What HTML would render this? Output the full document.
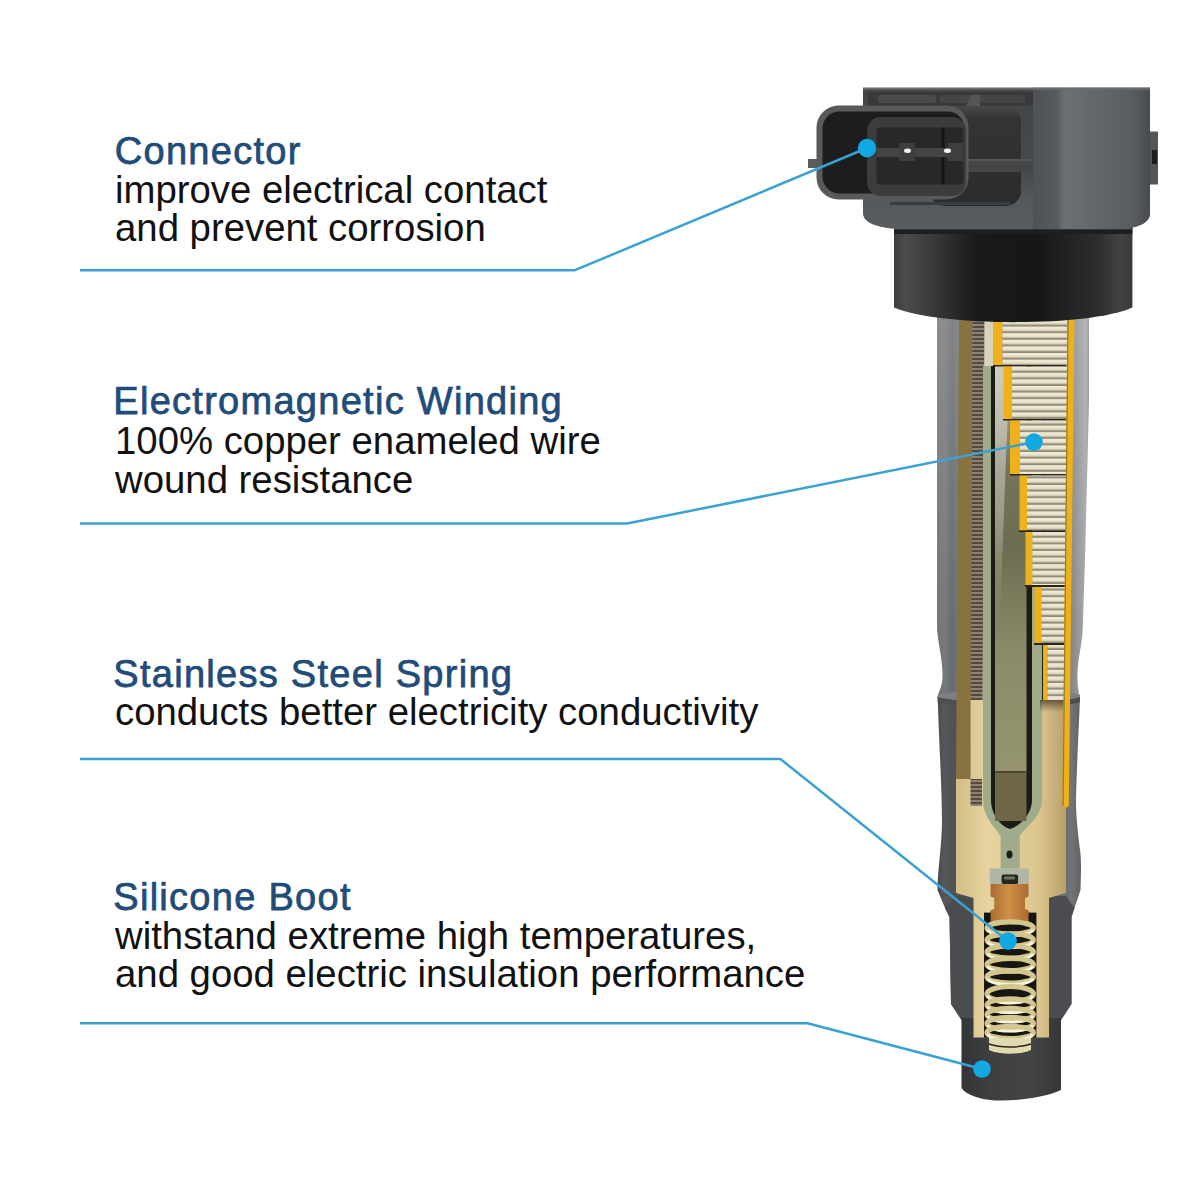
<!DOCTYPE html>
<html><head><meta charset="utf-8">
<style>
html,body{margin:0;padding:0;background:#fff;}
body{width:1200px;height:1200px;position:relative;overflow:hidden;font-family:"Liberation Sans",sans-serif;}
.t{position:absolute;left:115px;white-space:nowrap;line-height:1;}
.h{left:113.3px;font-size:38px;color:#1f4c79;letter-spacing:1.28px;-webkit-text-stroke:0.75px #1f4c79;}
.b{font-size:38.35px;color:#111;}
svg{position:absolute;left:0;top:0;}
</style></head><body>
<div class="t h" style="top:132px;left:114.8px">Connector</div>
<div class="t b" style="top:170.5px">improve electrical contact</div>
<div class="t b" style="top:209.2px">and prevent corrosion</div>

<div class="t h" style="top:381.8px">Electromagnetic Winding</div>
<div class="t b" style="top:421.6px">100% copper enameled wire</div>
<div class="t b" style="top:461.3px">wound resistance</div>

<div class="t h" style="top:655.1px">Stainless Steel Spring</div>
<div class="t b" style="top:693.4px">conducts better electricity conductivity</div>

<div class="t h" style="top:877.8px">Silicone Boot</div>
<div class="t b" style="top:917px">withstand extreme high temperatures,</div>
<div class="t b" style="top:955px">and good electric insulation performance</div>

<svg width="1200" height="1200" viewBox="0 0 1200 1200">
<defs>
<linearGradient id="gShaft" x1="937" x2="1089" y1="0" y2="0" gradientUnits="userSpaceOnUse">
<stop offset="0" stop-color="#727578"/><stop offset="0.05" stop-color="#76797c"/><stop offset="0.1" stop-color="#686b6e"/><stop offset="0.13" stop-color="#707275"/>
<stop offset="0.86" stop-color="#7c7e81"/><stop offset="0.93" stop-color="#959799"/><stop offset="0.98" stop-color="#a6a8aa"/><stop offset="1" stop-color="#8a8c8e"/>
</linearGradient>
<linearGradient id="gBoot" x1="937" x2="1082" y1="0" y2="0" gradientUnits="userSpaceOnUse">
<stop offset="0" stop-color="#48494c"/><stop offset="0.05" stop-color="#56585b"/><stop offset="0.12" stop-color="#505255"/>
<stop offset="0.8" stop-color="#5a5c5f"/><stop offset="0.92" stop-color="#737578"/><stop offset="1" stop-color="#5e6063"/>
</linearGradient>
<linearGradient id="gTip" x1="961" x2="1061" y1="0" y2="0" gradientUnits="userSpaceOnUse">
<stop offset="0" stop-color="#333435"/><stop offset="0.3" stop-color="#3e3f40"/><stop offset="0.7" stop-color="#434445"/><stop offset="1" stop-color="#363738"/>
</linearGradient>
<linearGradient id="gCollar" x1="894" x2="1133" y1="0" y2="0" gradientUnits="userSpaceOnUse">
<stop offset="0" stop-color="#3c3d3e"/><stop offset="0.05" stop-color="#4b4c4d"/><stop offset="0.15" stop-color="#3a3b3c"/><stop offset="0.35" stop-color="#19191a"/>
<stop offset="0.6" stop-color="#161718"/><stop offset="0.85" stop-color="#2c2d2e"/><stop offset="0.95" stop-color="#424344"/><stop offset="1" stop-color="#363738"/>
</linearGradient>
<linearGradient id="gHeadR" x1="1033" x2="1150" y1="0" y2="0" gradientUnits="userSpaceOnUse">
<stop offset="0" stop-color="#4f5254"/><stop offset="0.2" stop-color="#575a5c"/><stop offset="0.27" stop-color="#6e7173"/>
<stop offset="0.5" stop-color="#65686a"/><stop offset="0.85" stop-color="#5a5d5f"/><stop offset="1" stop-color="#484b4d"/>
</linearGradient>
<linearGradient id="gBeige" x1="955" x2="1066" y1="0" y2="0" gradientUnits="userSpaceOnUse">
<stop offset="0" stop-color="#d3bd85"/><stop offset="0.3" stop-color="#e6d3a0"/><stop offset="0.75" stop-color="#dcc68f"/><stop offset="1" stop-color="#b9a06a"/>
</linearGradient>
<linearGradient id="gWS" x1="0" x2="0" y1="0" y2="1">
<stop offset="0" stop-color="#f2edda"/><stop offset="0.55" stop-color="#e4dec6"/><stop offset="0.7" stop-color="#b9b29c"/><stop offset="0.85" stop-color="#7d7667"/><stop offset="1" stop-color="#a39c88"/>
</linearGradient>
<pattern id="pWind" width="300" height="6.6" patternUnits="userSpaceOnUse" x="0" y="320">
<rect width="300" height="6.6" fill="url(#gWS)"/>
</pattern>
<pattern id="pSerr" width="12" height="4" patternUnits="userSpaceOnUse">
<rect width="12" height="4" fill="#8d8174"/><rect y="2" width="12" height="2" fill="#54493f"/>
</pattern>
<linearGradient id="gCore" x1="0" x2="0" y1="366" y2="771" gradientUnits="userSpaceOnUse">
<stop offset="0" stop-color="#b9b7a6"/><stop offset="0.1" stop-color="#9c9a86"/><stop offset="0.25" stop-color="#75735a"/><stop offset="0.45" stop-color="#6d6c50"/><stop offset="0.7" stop-color="#8b8b6a"/><stop offset="1" stop-color="#95946f"/>
</linearGradient>
<linearGradient id="gCopper" x1="990" x2="1028" y1="0" y2="0" gradientUnits="userSpaceOnUse">
<stop offset="0" stop-color="#a86a2e"/><stop offset="0.5" stop-color="#d0904a"/><stop offset="1" stop-color="#a96b30"/>
</linearGradient>
<linearGradient id="gShadowTop" x1="0" x2="0" y1="0" y2="1">
<stop offset="0" stop-color="#3a3020" stop-opacity="0.7"/><stop offset="1" stop-color="#3a3020" stop-opacity="0"/>
</linearGradient>
</defs>

<g id="coil">
<!-- upper shaft -->
<path fill="url(#gShaft)" d="M937,300 L937,630 C939,648 942.5,660 942.5,675 C942.5,688 938,692 937.7,697 L1080,697 C1078,690 1077.5,684 1077.5,675 C1077.5,660 1082,645 1082.7,630 L1085,560 L1089,400 L1089,300 Z"/>
<linearGradient id="gShaftV" x1="0" x2="0" y1="318" y2="640" gradientUnits="userSpaceOnUse"><stop offset="0" stop-color="#ffffff" stop-opacity="0.16"/><stop offset="1" stop-color="#ffffff" stop-opacity="0"/></linearGradient>
<rect x="936" y="300" width="154" height="340" fill="url(#gShaftV)"/>
<!-- boot -->
<path fill="url(#gBoot)" d="M937.7,697 C938.5,730 942,790 942,820 C942,845 937.5,870 937.5,890 L945,908 L949.5,917 L951,1004 L961.5,1020 L1061,1020 L1071.5,1004 L1071.5,917 L1074.5,908 L1080.5,890 C1081,872 1081.5,860 1080,850 C1077.5,830 1076,815 1076,800 C1077,760 1079,725 1080,697 Z"/>
<path fill="#7d7f82" d="M937.7,695 C960,688 1060,688 1080,695 L1080,700 C1060,707 960,707 937.7,700 Z"/>
<path fill="#4c4e51" d="M937.7,697 C960,704 1060,704 1080,697 L1080,702 C1060,709 960,709 937.7,702 Z"/>
<!-- boot inner lower darker -->
<path fill="#4a4c4f" d="M945,908 L956,896 L1066,896 L1074.5,908 L1071.5,917 L1071.5,1004 L1061,1020 L961.5,1020 L951,1004 L949.5,917 Z"/>
<!-- tip -->
<path fill="url(#gTip)" d="M961.5,1018 L1061,1018 L1061,1090 C1045,1098 1010,1102 990,1100 C976,1098 966,1094 961.5,1088 Z"/>

<!-- inner left layers -->
<path fill="#877240" d="M959,318 L972.5,318 L970.5,779 L956,779 Z"/>
<path fill="url(#pSerr)" d="M972.5,318 L984.5,318 L982,806 L970.5,806 Z"/>
<path fill="#d9d3bb" d="M984.5,318 L993.5,318 L993,838 L982,838 Z"/>
<!-- beige lower -->
<path fill="url(#gBeige)" d="M956,779 L970.5,779 L970.5,700 L1066,700 L1066,893 L1049,898 L1049,1037.6 L973.5,1037.6 L973.5,898 L956,893 Z"/>
<path fill="url(#pSerr)" d="M970.5,779 L982.1,779 L982,806 L970.5,806 Z"/>
<!-- right yellow -->

<!-- capsule -->
<path fill="#1c1c16" d="M1030,366 L1043.5,366 L1043.5,700 L1030,700 Z"/>
<path fill="#a0ab8c" d="M983,366 L983,800 C983,818 996,828 1000.6,836 L1000.6,868.6 L1019.8,868.6 L1019.8,836 C1024,828 1042,818 1042,800 L1042,366 Z"/>
<path fill="#1c1c16" d="M991,366 L991,800 C991,814 1000,826 1010,829 C1020,826 1032,814 1032,800 L1032,366 Z"/>
<rect x="995" y="366" width="31.5" height="405" fill="url(#gCore)"/>
<linearGradient id="gSliver" x1="0" x2="0" y1="366" y2="620" gradientUnits="userSpaceOnUse"><stop offset="0" stop-color="#d2d0c4" stop-opacity="0.9"/><stop offset="0.6" stop-color="#b9b8a8" stop-opacity="0.6"/><stop offset="1" stop-color="#b0af9a" stop-opacity="0"/></linearGradient>
<path fill="url(#gSliver)" d="M995,366 L1010,366 C1006,450 1003,540 1000,620 L995,620 Z"/>
<rect x="995" y="771" width="31.5" height="50" fill="#6e6747"/>
<rect x="995" y="771" width="31.5" height="2" fill="#4c4632"/>
<ellipse cx="1009.5" cy="854.4" rx="3" ry="4" fill="#1c1c16"/>
<path fill="#b0b6a4" d="M989.7,868.6 L1028.7,868.6 L1028.7,884 L989.7,884 Z"/>
<rect x="1001.6" y="874.5" width="16.5" height="9.5" rx="2" fill="#23261e"/>
<rect x="1004" y="876.5" width="11" height="3" rx="1" fill="#6f7464"/>
<!-- copper cap -->
<path fill="url(#gCopper)" d="M990.6,884 L1028.5,884 L1028.5,896.5 L1025,898 L1025,909 L1028.5,910.5 L1028.5,923 L990.6,923 L990.6,910.5 L994.3,909 L994.3,898 L990.6,896.5 Z"/>
<!-- spring cavity -->
<rect x="984" y="912.6" width="52.4" height="125" fill="#171610"/>
<rect x="990.6" y="910.5" width="38" height="12.5" fill="url(#gCopper)"/>
<g fill="none">
<ellipse cx="1010.2" cy="928" rx="23.2" ry="6.2" stroke="#d2c68e" stroke-width="5.2"/>
<path d="M988,929.5 A22.2,6.2 0 0 0 1032.4,929.5" stroke="#f7f4de" stroke-width="2.8"/>
<ellipse cx="1010.2" cy="940" rx="23.2" ry="6.2" stroke="#d2c68e" stroke-width="5.2"/>
<path d="M988,941.5 A22.2,6.2 0 0 0 1032.4,941.5" stroke="#f7f4de" stroke-width="2.8"/>
<ellipse cx="1010.2" cy="952" rx="23.2" ry="6.2" stroke="#d2c68e" stroke-width="5.2"/>
<path d="M988,953.5 A22.2,6.2 0 0 0 1032.4,953.5" stroke="#f7f4de" stroke-width="2.8"/>
<ellipse cx="1010.2" cy="964.5" rx="23.2" ry="6.2" stroke="#d2c68e" stroke-width="5.2"/>
<path d="M988,966.0 A22.2,6.2 0 0 0 1032.4,966.0" stroke="#f7f4de" stroke-width="2.8"/>
<ellipse cx="1010.2" cy="977" rx="23.2" ry="6.2" stroke="#d2c68e" stroke-width="5.2"/>
<path d="M988,978.5 A22.2,6.2 0 0 0 1032.4,978.5" stroke="#f7f4de" stroke-width="2.8"/>
<ellipse cx="1010.2" cy="994" rx="23.2" ry="7.5" stroke="#d2c68e" stroke-width="5.2"/>
<path d="M988,995.5 A22.2,7.5 0 0 0 1032.4,995.5" stroke="#f7f4de" stroke-width="2.8"/>
<ellipse cx="1010.2" cy="1005" rx="23.2" ry="6.2" stroke="#d2c68e" stroke-width="5.2"/>
<path d="M988,1006.5 A22.2,6.2 0 0 0 1032.4,1006.5" stroke="#f7f4de" stroke-width="2.8"/>
<ellipse cx="1010.2" cy="1014.5" rx="23.2" ry="6.2" stroke="#d2c68e" stroke-width="5.2"/>
<path d="M988,1016.0 A22.2,6.2 0 0 0 1032.4,1016.0" stroke="#f7f4de" stroke-width="2.8"/>
<ellipse cx="1010.2" cy="1023.5" rx="23.2" ry="6.2" stroke="#d2c68e" stroke-width="5.2"/>
<path d="M988,1025.0 A22.2,6.2 0 0 0 1032.4,1025.0" stroke="#f7f4de" stroke-width="2.8"/>
<ellipse cx="1010.2" cy="1032.5" rx="23.2" ry="6.2" stroke="#d2c68e" stroke-width="5.2"/>
<path d="M988,1034.0 A22.2,6.2 0 0 0 1032.4,1034.0" stroke="#f7f4de" stroke-width="2.8"/>
</g>
<path fill="#e3dbb0" d="M989,1038 L1031,1038 L1031,1050 C1020,1055 1000,1055 989,1050 Z"/>
<path fill="none" stroke="#2a271a" stroke-width="1.5" d="M989,1044 C1000,1048 1020,1048 1031,1044"/>

<!-- winding blocks -->
<g>
<rect x="993.5" y="318" width="9" height="47" fill="#efb11a"/><rect x="1002.5" y="318" width="64.5" height="47" fill="url(#pWind)"/>
<rect x="993" y="365" width="73" height="1.5" fill="#2a2418"/>
<rect x="1003.5" y="366.5" width="8.5" height="53" fill="#efb11a"/><rect x="1012" y="366.5" width="55.0" height="53" fill="url(#pWind)"/>
<rect x="1003" y="419" width="63" height="1.5" fill="#2a2418"/>
<rect x="1010" y="420.5" width="10" height="53.5" fill="#efb11a"/><rect x="1020" y="420.5" width="47.0" height="53.5" fill="url(#pWind)"/>
<rect x="1010" y="474" width="56" height="1.5" fill="#2a2418"/>
<rect x="1019.5" y="475.5" width="7.5" height="55" fill="#efb11a"/><rect x="1027" y="475.5" width="40.0" height="55" fill="url(#pWind)"/>
<rect x="1019" y="530.5" width="47" height="1.5" fill="#2a2418"/>
<rect x="1025.5" y="532" width="7" height="53" fill="#efb11a"/><rect x="1032.5" y="532" width="34.5" height="53" fill="url(#pWind)"/>
<rect x="1025" y="585" width="41" height="2" fill="#2a2418"/>
<rect x="1034.5" y="587" width="7" height="56" fill="#efb11a"/><rect x="1041.5" y="587" width="25.5" height="56" fill="url(#pWind)"/>
<rect x="1034" y="643" width="32" height="2" fill="#2a2418"/>
<rect x="1043" y="645" width="4.5" height="55" fill="#efb11a"/><rect x="1047.5" y="645" width="19.5" height="55" fill="url(#pWind)"/>
<rect x="1040" y="700" width="26" height="12" fill="url(#gShadowTop)"/>
</g>
<path fill="#efb11a" d="M1067.5,318 L1074.5,318 L1068.8,806 Q1065.5,809 1062.5,806 Z"/>
<path fill="#9a7a20" d="M1067.5,318 L1068.7,318 L1063.7,806 L1062.5,806 Z"/>

<!-- collar -->
<path fill="url(#gCollar)" d="M894,226 L1132.4,226 L1132.4,307.5 C1090,327 940,327 894,307.5 Z"/>
<rect x="894" y="226" width="238.4" height="8" fill="#1d1e1f"/>
<rect x="894" y="228" width="238.4" height="1.5" fill="#4a4b4c"/>
<!-- head -->
<linearGradient id="gHeadTop" x1="0" x2="0" y1="87" y2="230" gradientUnits="userSpaceOnUse">
<stop offset="0" stop-color="#444547"/><stop offset="0.6" stop-color="#46484a"/><stop offset="0.78" stop-color="#55585a"/><stop offset="1" stop-color="#5a5d5f"/>
</linearGradient>
<linearGradient id="gHousing" x1="0" x2="0" y1="106" y2="206" gradientUnits="userSpaceOnUse">
<stop offset="0" stop-color="#48494b"/><stop offset="0.12" stop-color="#333436"/><stop offset="1" stop-color="#2a2b2d"/>
</linearGradient>
<path fill="url(#gHeadTop)" d="M863,87.7 L1150,87.7 L1150,213 C1150,222 1140,228 1120,229 L900,229 C875,228 863,222 863,213 Z"/>
<path fill="url(#gHeadR)" d="M1033,87.7 L1150,87.7 L1150,213 C1150,222 1140,228 1120,229 L1033,229 Z"/>
<rect x="863" y="87.7" width="287" height="2" fill="#6a6c6e"/>
<rect x="1150" y="131.5" width="8" height="53" fill="#545759"/>
<rect x="1152" y="150" width="5" height="14" fill="#1e1e20"/>
<rect x="868" y="92" width="165" height="14" fill="#39393b"/>
<rect x="878" y="95" width="58" height="8" rx="2" fill="#4a4b4d"/>
<rect x="940" y="95" width="85" height="8" rx="2" fill="#454648"/>
<path d="M966,106 L972,95 L980,95 L980,106 Z" fill="#555658"/>
<!-- right housing behind shroud -->
<rect x="930" y="106" width="91" height="100" rx="15" fill="url(#gHousing)"/>
<rect x="890" y="202" width="120" height="3" fill="#3a3b3d"/>
<rect x="960" y="159" width="72" height="13" fill="#444547"/>
<rect x="960" y="159" width="72" height="2" fill="#555658"/>
<!-- shroud -->
<rect x="808" y="159" width="10" height="9" fill="#5a5c5e"/>
<rect x="816.5" y="105.5" width="152" height="94" rx="22" fill="#58595b"/>
<rect x="822.5" y="111.5" width="142" height="82" rx="17" fill="#1d1d1f"/>
<rect x="867" y="117" width="99" height="79" rx="14" fill="#3b3c3e"/>
<rect x="876.5" y="127.5" width="87" height="57" rx="4" fill="#27282a"/>
<rect x="941.5" y="127.5" width="3" height="57" fill="#151517"/>
<rect x="876.5" y="148" width="87" height="9" fill="#434446"/>
<rect x="899" y="143" width="16" height="18" fill="#3d3e40"/>
<rect x="948" y="143" width="15" height="18" fill="#3d3e40"/>
<ellipse cx="907.5" cy="150.8" rx="3.5" ry="2.2" fill="#f4f4f4"/>
<ellipse cx="947.5" cy="150.8" rx="3.5" ry="2.2" fill="#f4f4f4"/>
</g>

<!-- callouts -->
<g fill="none" stroke="#3aa2d2" stroke-width="2.5" stroke-linejoin="round">
<polyline points="80,270.2 575,270.2 867,148"/>
<polyline points="80,523.6 627,523.6 1034,442"/>
<polyline points="80,759.1 780.5,759.1 1008,941"/>
<polyline points="80,1023.2 807.5,1023.2 982,1069"/>
</g>
<g fill="#12a8e2">
<circle cx="867" cy="148" r="9.2"/>
<circle cx="1034" cy="442" r="8.8"/>
<circle cx="1008" cy="941" r="8.8"/>
<circle cx="982" cy="1069" r="8.8"/>
</g>
</svg>
</body></html>
